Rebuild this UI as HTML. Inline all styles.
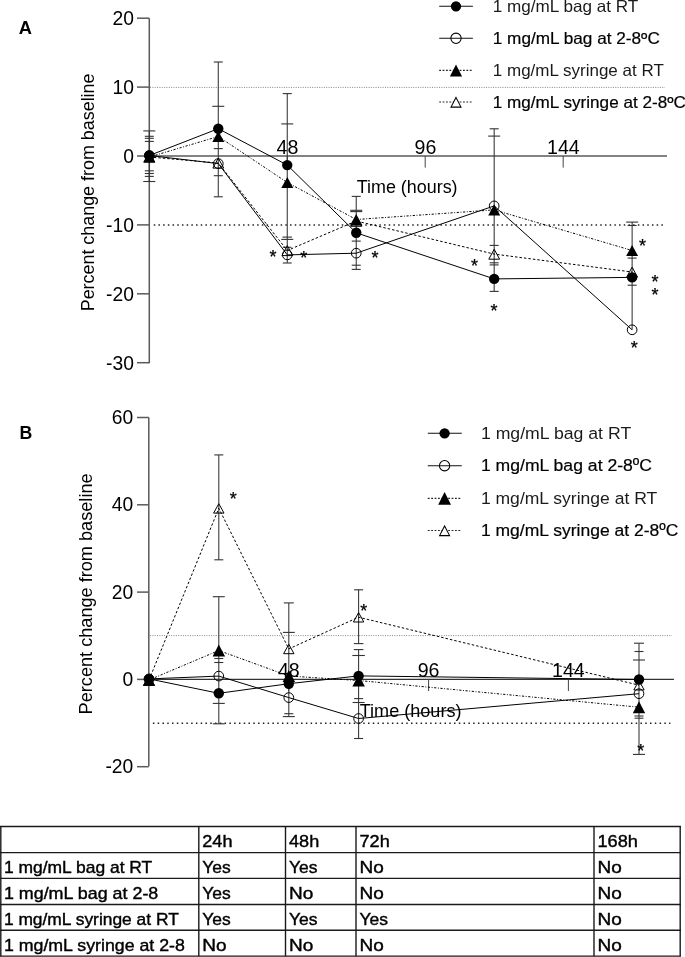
<!DOCTYPE html>
<html><head><meta charset="utf-8"><style>
html,body{margin:0;padding:0;background:#fff;}
body{width:685px;height:957px;overflow:hidden;}
svg{display:block;font-family:"Liberation Sans", sans-serif;will-change:transform;}
</style></head><body>
<svg width="685" height="957" viewBox="0 0 685 957">
<rect width="685" height="957" fill="#fff"/>
<text x="18.8" y="34.4" font-size="18.3" text-anchor="start" fill="#000" font-weight="bold">A</text>
<line x1="149.3" y1="18.3" x2="149.3" y2="363.2" stroke="#5a5a5a" stroke-width="1.5"/>
<line x1="137" y1="18.2" x2="149.3" y2="18.2" stroke="#5a5a5a" stroke-width="1.5"/>
<text transform="translate(133.9 25.0) scale(1 1.09)" font-size="19.3" text-anchor="end" fill="#000">20</text>
<line x1="137" y1="87.1" x2="149.3" y2="87.1" stroke="#5a5a5a" stroke-width="1.5"/>
<text transform="translate(133.9 93.9) scale(1 1.09)" font-size="19.3" text-anchor="end" fill="#000">10</text>
<line x1="137" y1="156.0" x2="149.3" y2="156.0" stroke="#5a5a5a" stroke-width="1.5"/>
<text transform="translate(133.9 162.8) scale(1 1.09)" font-size="19.3" text-anchor="end" fill="#000">0</text>
<line x1="137" y1="224.9" x2="149.3" y2="224.9" stroke="#5a5a5a" stroke-width="1.5"/>
<text transform="translate(133.9 231.7) scale(1 1.09)" font-size="19.3" text-anchor="end" fill="#000">-10</text>
<line x1="137" y1="293.8" x2="149.3" y2="293.8" stroke="#5a5a5a" stroke-width="1.5"/>
<text transform="translate(133.9 300.6) scale(1 1.09)" font-size="19.3" text-anchor="end" fill="#000">-20</text>
<line x1="137" y1="362.7" x2="149.3" y2="362.7" stroke="#5a5a5a" stroke-width="1.5"/>
<text transform="translate(133.9 369.5) scale(1 1.09)" font-size="19.3" text-anchor="end" fill="#000">-30</text>
<line x1="150" y1="87.4" x2="665" y2="87.4" stroke="#777" stroke-width="0.9" stroke-dasharray="1 1.35"/>
<line x1="153.75" y1="224.9" x2="663.6" y2="224.9" stroke="#222" stroke-width="1.5" stroke-dasharray="1.5 3.2"/>
<line x1="149.3" y1="156" x2="667" y2="156" stroke="#5a5a5a" stroke-width="1.5"/>
<line x1="287.25" y1="156" x2="287.25" y2="167.6" stroke="#444" stroke-width="1.0"/>
<text transform="translate(287.45 153.9) scale(1 1.04)" font-size="19.6" text-anchor="middle" fill="#000">48</text>
<line x1="425.2" y1="156" x2="425.2" y2="167.6" stroke="#444" stroke-width="1.0"/>
<text transform="translate(425.4 153.9) scale(1 1.04)" font-size="19.6" text-anchor="middle" fill="#000">96</text>
<line x1="563.16" y1="156" x2="563.16" y2="167.6" stroke="#444" stroke-width="1.0"/>
<text transform="translate(563.36 153.9) scale(1 1.04)" font-size="19.6" text-anchor="middle" fill="#000">144</text>
<text x="356.7" y="193.2" font-size="18.8" text-anchor="start" fill="#000" font-weight="normal" textLength="100.9" lengthAdjust="spacingAndGlyphs">Time (hours)</text>
<text transform="translate(94.2 311.3) rotate(-90)" font-size="18.2" textLength="237.8" lengthAdjust="spacingAndGlyphs">Percent change from baseline</text>
<line x1="149.3" y1="130.9" x2="149.3" y2="181.5" stroke="#333" stroke-width="1.05"/>
<line x1="143.3" y1="130.9" x2="155.3" y2="130.9" stroke="#333" stroke-width="1.1"/>
<line x1="144.8" y1="136.3" x2="153.8" y2="136.3" stroke="#333" stroke-width="1.1"/>
<line x1="144.8" y1="138.3" x2="153.8" y2="138.3" stroke="#333" stroke-width="1.1"/>
<line x1="144.8" y1="141.4" x2="153.8" y2="141.4" stroke="#333" stroke-width="1.1"/>
<line x1="144.8" y1="170.8" x2="153.8" y2="170.8" stroke="#333" stroke-width="1.1"/>
<line x1="144.8" y1="173.5" x2="153.8" y2="173.5" stroke="#333" stroke-width="1.1"/>
<line x1="144.8" y1="176.4" x2="153.8" y2="176.4" stroke="#333" stroke-width="1.1"/>
<line x1="143.3" y1="181.5" x2="155.3" y2="181.5" stroke="#333" stroke-width="1.1"/>
<line x1="218.28" y1="62" x2="218.28" y2="196.8" stroke="#333" stroke-width="1.05"/>
<line x1="213.78" y1="62" x2="222.78" y2="62" stroke="#333" stroke-width="1.1"/>
<line x1="212.28" y1="106.3" x2="224.28" y2="106.3" stroke="#333" stroke-width="1.1"/>
<line x1="213.78" y1="148.6" x2="222.78" y2="148.6" stroke="#333" stroke-width="1.1"/>
<line x1="213.78" y1="175.7" x2="222.78" y2="175.7" stroke="#333" stroke-width="1.1"/>
<line x1="213.78" y1="196.8" x2="222.78" y2="196.8" stroke="#333" stroke-width="1.1"/>
<line x1="287.25" y1="93.6" x2="287.25" y2="263" stroke="#333" stroke-width="1.05"/>
<line x1="282.75" y1="93.6" x2="291.75" y2="93.6" stroke="#333" stroke-width="1.1"/>
<line x1="281.25" y1="123.9" x2="293.25" y2="123.9" stroke="#333" stroke-width="1.1"/>
<line x1="282.5" y1="237.1" x2="292.0" y2="237.1" stroke="#333" stroke-width="1.1"/>
<line x1="281.25" y1="239.4" x2="293.25" y2="239.4" stroke="#333" stroke-width="1.1"/>
<line x1="283.0" y1="247.3" x2="291.5" y2="247.3" stroke="#333" stroke-width="1.1"/>
<line x1="282.75" y1="263" x2="291.75" y2="263" stroke="#333" stroke-width="1.1"/>
<line x1="356.23" y1="196.4" x2="356.23" y2="269.4" stroke="#333" stroke-width="1.05"/>
<line x1="351.73" y1="196.4" x2="360.73" y2="196.4" stroke="#333" stroke-width="1.1"/>
<line x1="350.23" y1="210.3" x2="362.23" y2="210.3" stroke="#333" stroke-width="1.1"/>
<line x1="350.23" y1="211.6" x2="362.23" y2="211.6" stroke="#333" stroke-width="1.1"/>
<line x1="350.23" y1="226" x2="362.23" y2="226" stroke="#333" stroke-width="1.1"/>
<line x1="351.73" y1="241.1" x2="360.73" y2="241.1" stroke="#333" stroke-width="1.1"/>
<line x1="351.73" y1="265.2" x2="360.73" y2="265.2" stroke="#333" stroke-width="1.1"/>
<line x1="351.73" y1="269.4" x2="360.73" y2="269.4" stroke="#333" stroke-width="1.1"/>
<line x1="494.18" y1="128.8" x2="494.18" y2="291.4" stroke="#333" stroke-width="1.05"/>
<line x1="489.68" y1="128.8" x2="498.68" y2="128.8" stroke="#333" stroke-width="1.1"/>
<line x1="488.18" y1="136.1" x2="500.18" y2="136.1" stroke="#333" stroke-width="1.1"/>
<line x1="489.68" y1="245.4" x2="498.68" y2="245.4" stroke="#333" stroke-width="1.1"/>
<line x1="489.68" y1="262.8" x2="498.68" y2="262.8" stroke="#333" stroke-width="1.1"/>
<line x1="489.68" y1="264.9" x2="498.68" y2="264.9" stroke="#333" stroke-width="1.1"/>
<line x1="489.68" y1="291.4" x2="498.68" y2="291.4" stroke="#333" stroke-width="1.1"/>
<line x1="632.13" y1="222.1" x2="632.13" y2="329.8" stroke="#333" stroke-width="1.05"/>
<line x1="626.13" y1="222.1" x2="638.13" y2="222.1" stroke="#333" stroke-width="1.1"/>
<line x1="627.63" y1="225.5" x2="636.63" y2="225.5" stroke="#333" stroke-width="1.1"/>
<line x1="627.63" y1="258.1" x2="636.63" y2="258.1" stroke="#333" stroke-width="1.1"/>
<line x1="627.63" y1="285.2" x2="636.63" y2="285.2" stroke="#333" stroke-width="1.1"/>
<path d="M149.3 157.0L218.3 163.0L287.3 250.5L356.2 221.0L494.2 254.1L632.1 272.0" fill="none" stroke="#000" stroke-width="1" stroke-dasharray="2.5 2"/>
<path d="M149.3 157.0L218.3 136.5L287.3 182.5L356.2 219.5L494.2 209.9L632.1 250.5" fill="none" stroke="#000" stroke-width="1" stroke-dasharray="2.2 1.6 0.9 1.6"/>
<path d="M149.3 155.5L218.3 163.6L287.3 254.9L356.2 253.2L494.2 205.9L632.1 329.8" fill="none" stroke="#000" stroke-width="1"/>
<path d="M149.3 155.5L218.3 128.7L287.3 165.1L356.2 232.8L494.2 278.9L632.1 277.4" fill="none" stroke="#000" stroke-width="1"/>
<path d="M149.3 152.1L154.7 162.1L143.9 162.1Z" fill="none" stroke="#000" stroke-width="1"/>
<path d="M218.3 158.1L223.7 168.1L212.9 168.1Z" fill="none" stroke="#000" stroke-width="1"/>
<path d="M287.3 245.6L292.7 255.6L281.9 255.6Z" fill="none" stroke="#000" stroke-width="1"/>
<path d="M356.2 216.1L361.6 226.1L350.8 226.1Z" fill="none" stroke="#000" stroke-width="1"/>
<path d="M494.2 249.2L499.6 259.2L488.8 259.2Z" fill="none" stroke="#000" stroke-width="1"/>
<path d="M632.1 267.1L637.5 277.1L626.7 277.1Z" fill="none" stroke="#000" stroke-width="1"/>
<circle cx="149.3" cy="155.5" r="4.85" fill="none" stroke="#000" stroke-width="1"/>
<circle cx="218.28" cy="163.6" r="4.85" fill="none" stroke="#000" stroke-width="1"/>
<circle cx="287.25" cy="254.9" r="4.85" fill="none" stroke="#000" stroke-width="1"/>
<circle cx="356.23" cy="253.2" r="4.85" fill="none" stroke="#000" stroke-width="1"/>
<circle cx="494.18" cy="205.9" r="4.85" fill="none" stroke="#000" stroke-width="1"/>
<circle cx="632.13" cy="329.8" r="4.85" fill="none" stroke="#000" stroke-width="1"/>
<path d="M149.3 151.4L155.3 162.6L143.3 162.6Z" fill="#000"/>
<path d="M218.3 130.9L224.3 142.1L212.3 142.1Z" fill="#000"/>
<path d="M287.3 176.9L293.3 188.1L281.3 188.1Z" fill="#000"/>
<path d="M356.2 213.9L362.2 225.1L350.2 225.1Z" fill="#000"/>
<path d="M494.2 204.3L500.2 215.5L488.2 215.5Z" fill="#000"/>
<path d="M632.1 244.9L638.1 256.1L626.1 256.1Z" fill="#000"/>
<circle cx="149.3" cy="155.5" r="5.2" fill="#000"/>
<circle cx="218.28" cy="128.7" r="5.2" fill="#000"/>
<circle cx="287.25" cy="165.1" r="5.2" fill="#000"/>
<circle cx="356.23" cy="232.8" r="5.2" fill="#000"/>
<circle cx="494.18" cy="278.9" r="5.2" fill="#000"/>
<circle cx="632.13" cy="277.4" r="5.2" fill="#000"/>
<text x="273.1" y="263.2" font-size="18" text-anchor="middle" stroke="#000" stroke-width="0.25">*</text>
<text x="303.8" y="263.5" font-size="18" text-anchor="middle" stroke="#000" stroke-width="0.25">*</text>
<text x="375" y="263.59999999999997" font-size="18" text-anchor="middle" stroke="#000" stroke-width="0.25">*</text>
<text x="474.5" y="272.09999999999997" font-size="18" text-anchor="middle" stroke="#000" stroke-width="0.25">*</text>
<text x="493.9" y="317.0" font-size="18" text-anchor="middle" stroke="#000" stroke-width="0.25">*</text>
<text x="642.6" y="252.0" font-size="18" text-anchor="middle" stroke="#000" stroke-width="0.25">*</text>
<text x="655.1" y="288.4" font-size="18" text-anchor="middle" stroke="#000" stroke-width="0.25">*</text>
<text x="655.1" y="300.59999999999997" font-size="18" text-anchor="middle" stroke="#000" stroke-width="0.25">*</text>
<text x="634.3" y="353.9" font-size="18" text-anchor="middle" stroke="#000" stroke-width="0.25">*</text>
<line x1="439.2" y1="6.3" x2="472.9" y2="6.3" stroke="#111" stroke-width="1.1"/>
<circle cx="456.0" cy="6.3" r="5.15" fill="#000"/>
<text x="492.8" y="12.0" font-size="16.5" text-anchor="start" fill="#1a1a1a" font-weight="normal" textLength="145.5" lengthAdjust="spacingAndGlyphs">1 mg/mL bag at RT</text>
<line x1="439.2" y1="38.3" x2="472.9" y2="38.3" stroke="#111" stroke-width="1.1"/>
<circle cx="456.0" cy="38.3" r="5.15" fill="none" stroke="#000" stroke-width="1.05"/>
<text x="492.8" y="44.0" font-size="16.5" text-anchor="start" fill="#000" font-weight="normal" textLength="167.0" lengthAdjust="spacingAndGlyphs" stroke="#000" stroke-width="0.2">1 mg/mL bag at 2-8ºC</text>
<line x1="439.2" y1="70.4" x2="472.9" y2="70.4" stroke="#222" stroke-width="1.1" stroke-dasharray="1.8 1.6"/>
<path d="M456.0 64.4L462.1 76.4L449.9 76.4Z" fill="#000"/>
<text x="492.8" y="76.1" font-size="16.5" text-anchor="start" fill="#1a1a1a" font-weight="normal" textLength="171.0" lengthAdjust="spacingAndGlyphs">1 mg/mL syringe at RT</text>
<line x1="439.2" y1="102.0" x2="472.9" y2="102.0" stroke="#222" stroke-width="1.1" stroke-dasharray="1.8 1.6"/>
<path d="M456.0 97.4L461.0 107.1L451.0 107.1Z" fill="#fff" stroke="#000" stroke-width="1.05"/>
<text x="492.8" y="107.7" font-size="16.5" text-anchor="start" fill="#000" font-weight="normal" textLength="193.0" lengthAdjust="spacingAndGlyphs" stroke="#000" stroke-width="0.2">1 mg/mL syringe at 2-8ºC</text>
<text x="19.6" y="438.6" font-size="17.7" text-anchor="start" fill="#000" font-weight="bold">B</text>
<line x1="148.8" y1="417.6" x2="148.8" y2="766.2" stroke="#5a5a5a" stroke-width="1.5"/>
<line x1="137" y1="417.5" x2="148.8" y2="417.5" stroke="#5a5a5a" stroke-width="1.5"/>
<text transform="translate(133.3 424.1) scale(1 1.09)" font-size="19.3" text-anchor="end" fill="#000">60</text>
<line x1="137" y1="504.8" x2="148.8" y2="504.8" stroke="#5a5a5a" stroke-width="1.5"/>
<text transform="translate(133.3 511.4) scale(1 1.09)" font-size="19.3" text-anchor="end" fill="#000">40</text>
<line x1="137" y1="592.1" x2="148.8" y2="592.1" stroke="#5a5a5a" stroke-width="1.5"/>
<text transform="translate(133.3 598.7) scale(1 1.09)" font-size="19.3" text-anchor="end" fill="#000">20</text>
<line x1="137" y1="679.4" x2="148.8" y2="679.4" stroke="#5a5a5a" stroke-width="1.5"/>
<text transform="translate(133.3 686.0) scale(1 1.09)" font-size="19.3" text-anchor="end" fill="#000">0</text>
<line x1="137" y1="766.7" x2="148.8" y2="766.7" stroke="#5a5a5a" stroke-width="1.5"/>
<text transform="translate(133.3 773.3) scale(1 1.09)" font-size="19.3" text-anchor="end" fill="#000">-20</text>
<line x1="150" y1="635.6" x2="672" y2="635.6" stroke="#777" stroke-width="0.9" stroke-dasharray="1 1.35"/>
<line x1="152.9" y1="723.2" x2="670.4" y2="723.2" stroke="#222" stroke-width="1.5" stroke-dasharray="1.5 3.28"/>
<line x1="148.8" y1="679.4" x2="674" y2="679.4" stroke="#333" stroke-width="1.3"/>
<line x1="288.8" y1="679.4" x2="288.8" y2="691" stroke="#444" stroke-width="1.0"/>
<text transform="translate(288.8 677.4) scale(1 1.04)" font-size="19.6" text-anchor="middle" fill="#000">48</text>
<line x1="428.6" y1="679.4" x2="428.6" y2="691" stroke="#444" stroke-width="1.0"/>
<text transform="translate(428.6 677.4) scale(1 1.04)" font-size="19.6" text-anchor="middle" fill="#000">96</text>
<line x1="568.4" y1="679.4" x2="568.4" y2="691" stroke="#444" stroke-width="1.0"/>
<text transform="translate(568.4 677.4) scale(1 1.04)" font-size="19.6" text-anchor="middle" fill="#000">144</text>
<text x="359.7" y="717.0" font-size="18.8" text-anchor="start" fill="#000" font-weight="normal" textLength="101.8" lengthAdjust="spacingAndGlyphs">Time (hours)</text>
<text transform="translate(92.3 714.4) rotate(-90)" font-size="18.4" textLength="241" lengthAdjust="spacingAndGlyphs">Percent change from baseline</text>
<line x1="218.8" y1="454.9" x2="218.8" y2="559.8" stroke="#333" stroke-width="1.05"/>
<line x1="218.8" y1="596.7" x2="218.8" y2="723.8" stroke="#333" stroke-width="1.05"/>
<line x1="214.3" y1="454.9" x2="223.3" y2="454.9" stroke="#333" stroke-width="1.1"/>
<line x1="214.3" y1="559.8" x2="223.3" y2="559.8" stroke="#333" stroke-width="1.1"/>
<line x1="212.8" y1="596.7" x2="224.8" y2="596.7" stroke="#333" stroke-width="1.1"/>
<line x1="214.3" y1="658.5" x2="223.3" y2="658.5" stroke="#333" stroke-width="1.1"/>
<line x1="214.3" y1="662.5" x2="223.3" y2="662.5" stroke="#333" stroke-width="1.1"/>
<line x1="212.8" y1="703.4" x2="224.8" y2="703.4" stroke="#333" stroke-width="1.1"/>
<line x1="212.8" y1="723.8" x2="224.8" y2="723.8" stroke="#333" stroke-width="1.1"/>
<line x1="288.8" y1="602.9" x2="288.8" y2="716.6" stroke="#333" stroke-width="1.05"/>
<line x1="283.8" y1="602.9" x2="293.8" y2="602.9" stroke="#333" stroke-width="1.1"/>
<line x1="282.8" y1="632.4" x2="294.8" y2="632.4" stroke="#333" stroke-width="1.1"/>
<line x1="284.3" y1="713.7" x2="293.3" y2="713.7" stroke="#333" stroke-width="1.1"/>
<line x1="282.8" y1="716.6" x2="294.8" y2="716.6" stroke="#333" stroke-width="1.1"/>
<line x1="358.6" y1="589.8" x2="358.6" y2="643.6" stroke="#333" stroke-width="1.05"/>
<line x1="358.6" y1="649.6" x2="358.6" y2="738.5" stroke="#333" stroke-width="1.05"/>
<line x1="354.1" y1="589.8" x2="363.1" y2="589.8" stroke="#333" stroke-width="1.1"/>
<line x1="353.8" y1="643.6" x2="363.4" y2="643.6" stroke="#333" stroke-width="1.1"/>
<line x1="353.8" y1="649.6" x2="363.4" y2="649.6" stroke="#333" stroke-width="1.1"/>
<line x1="352.35" y1="655.5" x2="364.85" y2="655.5" stroke="#333" stroke-width="1.1"/>
<line x1="354.1" y1="698.6" x2="363.1" y2="698.6" stroke="#333" stroke-width="1.1"/>
<line x1="352.6" y1="702.5" x2="364.6" y2="702.5" stroke="#333" stroke-width="1.1"/>
<line x1="354.1" y1="738.5" x2="363.1" y2="738.5" stroke="#333" stroke-width="1.1"/>
<line x1="639.0" y1="643.2" x2="639.0" y2="754.4" stroke="#333" stroke-width="1.05"/>
<line x1="634.0" y1="643.2" x2="644.0" y2="643.2" stroke="#333" stroke-width="1.1"/>
<line x1="634.5" y1="651.5" x2="643.5" y2="651.5" stroke="#333" stroke-width="1.1"/>
<line x1="633.0" y1="660" x2="645.0" y2="660" stroke="#333" stroke-width="1.1"/>
<line x1="634.5" y1="716" x2="643.5" y2="716" stroke="#333" stroke-width="1.1"/>
<line x1="634.5" y1="718.2" x2="643.5" y2="718.2" stroke="#333" stroke-width="1.1"/>
<line x1="633.0" y1="754.4" x2="645.0" y2="754.4" stroke="#333" stroke-width="1.1"/>
<path d="M149.0 680.0L218.8 508.3L288.8 648.9L358.6 617.2L639.0 685.2" fill="none" stroke="#000" stroke-width="1" stroke-dasharray="2.5 2"/>
<path d="M149.0 680.0L218.8 650.5L288.8 676.0L358.6 680.5L639.0 707.2" fill="none" stroke="#000" stroke-width="1" stroke-dasharray="2.2 1.6 0.9 1.6"/>
<path d="M149.0 678.9L218.8 676.1L288.8 697.6L358.6 718.5L639.0 693.7" fill="none" stroke="#000" stroke-width="1"/>
<path d="M149.0 678.9L218.8 693.3L288.8 683.7L358.6 675.9L639.0 679.5" fill="none" stroke="#000" stroke-width="1"/>
<path d="M149.0 675.4L154.2 684.8L143.8 684.8Z" fill="none" stroke="#000" stroke-width="1"/>
<path d="M218.8 503.7L224.0 513.1L213.6 513.1Z" fill="none" stroke="#000" stroke-width="1"/>
<path d="M288.8 644.3L294.0 653.7L283.6 653.7Z" fill="none" stroke="#000" stroke-width="1"/>
<path d="M358.6 612.6L363.8 622.0L353.4 622.0Z" fill="none" stroke="#000" stroke-width="1"/>
<path d="M639.0 680.6L644.2 690.0L633.8 690.0Z" fill="none" stroke="#000" stroke-width="1"/>
<circle cx="149.0" cy="678.9" r="4.85" fill="none" stroke="#000" stroke-width="1"/>
<circle cx="218.8" cy="676.1" r="4.85" fill="none" stroke="#000" stroke-width="1"/>
<circle cx="288.8" cy="697.6" r="4.85" fill="none" stroke="#000" stroke-width="1"/>
<circle cx="358.6" cy="718.5" r="4.85" fill="none" stroke="#000" stroke-width="1"/>
<circle cx="639.0" cy="693.7" r="4.85" fill="none" stroke="#000" stroke-width="1"/>
<path d="M149.0 674.0L155.2 686.0L142.8 686.0Z" fill="#000"/>
<path d="M218.8 644.5L225.1 656.5L212.6 656.5Z" fill="#000"/>
<path d="M288.8 670.0L295.1 682.0L282.6 682.0Z" fill="#000"/>
<path d="M358.6 674.5L364.9 686.5L352.4 686.5Z" fill="#000"/>
<path d="M639.0 701.2L645.2 713.2L632.8 713.2Z" fill="#000"/>
<circle cx="149.0" cy="678.9" r="5.2" fill="#000"/>
<circle cx="218.8" cy="693.3" r="5.2" fill="#000"/>
<circle cx="288.8" cy="683.7" r="5.2" fill="#000"/>
<circle cx="358.6" cy="675.9" r="5.2" fill="#000"/>
<circle cx="639.0" cy="679.5" r="5.2" fill="#000"/>
<text x="233.2" y="505.2" font-size="18" text-anchor="middle" stroke="#000" stroke-width="0.25">*</text>
<text x="363.7" y="617.4" font-size="18" text-anchor="middle" stroke="#000" stroke-width="0.25">*</text>
<text x="640.7" y="756.9" font-size="18" text-anchor="middle" stroke="#000" stroke-width="0.25">*</text>
<line x1="427.8" y1="433.3" x2="461.8" y2="433.3" stroke="#111" stroke-width="1.1"/>
<circle cx="444.6" cy="433.3" r="5.15" fill="#000"/>
<text x="480.9" y="439.0" font-size="16.9" text-anchor="start" fill="#1a1a1a" font-weight="normal" textLength="150.3" lengthAdjust="spacingAndGlyphs">1 mg/mL bag at RT</text>
<line x1="427.8" y1="465.7" x2="461.8" y2="465.7" stroke="#111" stroke-width="1.1"/>
<circle cx="444.6" cy="465.7" r="5.15" fill="none" stroke="#000" stroke-width="1.05"/>
<text x="480.9" y="471.4" font-size="16.9" text-anchor="start" fill="#000" font-weight="normal" textLength="171.1" lengthAdjust="spacingAndGlyphs" stroke="#000" stroke-width="0.2">1 mg/mL bag at 2-8ºC</text>
<line x1="427.8" y1="498.4" x2="461.8" y2="498.4" stroke="#222" stroke-width="1.1" stroke-dasharray="1.8 1.6"/>
<path d="M444.6 492.0L451.0 504.8L438.2 504.8Z" fill="#000"/>
<text x="480.9" y="504.1" font-size="16.9" text-anchor="start" fill="#1a1a1a" font-weight="normal" textLength="176.4" lengthAdjust="spacingAndGlyphs">1 mg/mL syringe at RT</text>
<line x1="427.8" y1="530.5" x2="461.8" y2="530.5" stroke="#222" stroke-width="1.1" stroke-dasharray="1.8 1.6"/>
<path d="M444.6 525.9L449.6 535.6L439.6 535.6Z" fill="#fff" stroke="#000" stroke-width="1.05"/>
<text x="480.9" y="536.2" font-size="16.9" text-anchor="start" fill="#000" font-weight="normal" textLength="197.5" lengthAdjust="spacingAndGlyphs" stroke="#000" stroke-width="0.2">1 mg/mL syringe at 2-8ºC</text>
<line x1="0" y1="826.5" x2="680.9" y2="826.5" stroke="#1a1a1a" stroke-width="1.4"/>
<line x1="0" y1="852.6" x2="680.9" y2="852.6" stroke="#1a1a1a" stroke-width="1.4"/>
<line x1="0" y1="878.4" x2="680.9" y2="878.4" stroke="#1a1a1a" stroke-width="1.4"/>
<line x1="0" y1="904.5" x2="680.9" y2="904.5" stroke="#1a1a1a" stroke-width="1.4"/>
<line x1="0" y1="930.3" x2="680.9" y2="930.3" stroke="#1a1a1a" stroke-width="1.4"/>
<line x1="0" y1="956.1" x2="680.9" y2="956.1" stroke="#1a1a1a" stroke-width="1.4"/>
<line x1="0.8" y1="826.3" x2="0.8" y2="956.3" stroke="#1a1a1a" stroke-width="1.4"/>
<line x1="198.8" y1="826.3" x2="198.8" y2="956.3" stroke="#1a1a1a" stroke-width="1.4"/>
<line x1="285.5" y1="826.3" x2="285.5" y2="956.3" stroke="#1a1a1a" stroke-width="1.4"/>
<line x1="356" y1="826.3" x2="356" y2="956.3" stroke="#1a1a1a" stroke-width="1.4"/>
<line x1="594.0" y1="826.3" x2="594.0" y2="956.3" stroke="#1a1a1a" stroke-width="1.4"/>
<line x1="680.2" y1="826.3" x2="680.2" y2="956.3" stroke="#1a1a1a" stroke-width="1.4"/>
<text x="202.3" y="846.7" font-size="17" text-anchor="start" fill="#000" font-weight="normal" textLength="30.2" lengthAdjust="spacingAndGlyphs" stroke="#000" stroke-width="0.4">24h</text>
<text x="289.0" y="846.7" font-size="17" text-anchor="start" fill="#000" font-weight="normal" textLength="30.2" lengthAdjust="spacingAndGlyphs" stroke="#000" stroke-width="0.4">48h</text>
<text x="359.5" y="846.7" font-size="17" text-anchor="start" fill="#000" font-weight="normal" textLength="30.2" lengthAdjust="spacingAndGlyphs" stroke="#000" stroke-width="0.4">72h</text>
<text x="597.5" y="846.7" font-size="17" text-anchor="start" fill="#000" font-weight="normal" textLength="40.4" lengthAdjust="spacingAndGlyphs" stroke="#000" stroke-width="0.4">168h</text>
<text x="3.9" y="872.8" font-size="17" text-anchor="start" fill="#000" font-weight="normal" textLength="148.4" lengthAdjust="spacingAndGlyphs" stroke="#000" stroke-width="0.4">1 mg/mL bag at RT</text>
<text x="202.3" y="872.8" font-size="17" text-anchor="start" fill="#000" font-weight="normal" textLength="28.5" lengthAdjust="spacingAndGlyphs" stroke="#000" stroke-width="0.4">Yes</text>
<text x="289.0" y="872.8" font-size="17" text-anchor="start" fill="#000" font-weight="normal" textLength="28.5" lengthAdjust="spacingAndGlyphs" stroke="#000" stroke-width="0.4">Yes</text>
<text x="359.5" y="872.8" font-size="17" text-anchor="start" fill="#000" font-weight="normal" textLength="24.3" lengthAdjust="spacingAndGlyphs" stroke="#000" stroke-width="0.4">No</text>
<text x="597.5" y="872.8" font-size="17" text-anchor="start" fill="#000" font-weight="normal" textLength="24.3" lengthAdjust="spacingAndGlyphs" stroke="#000" stroke-width="0.4">No</text>
<text x="3.9" y="898.6" font-size="17" text-anchor="start" fill="#000" font-weight="normal" textLength="154.4" lengthAdjust="spacingAndGlyphs" stroke="#000" stroke-width="0.4">1 mg/mL bag at 2-8</text>
<text x="202.3" y="898.6" font-size="17" text-anchor="start" fill="#000" font-weight="normal" textLength="28.5" lengthAdjust="spacingAndGlyphs" stroke="#000" stroke-width="0.4">Yes</text>
<text x="289.0" y="898.6" font-size="17" text-anchor="start" fill="#000" font-weight="normal" textLength="24.3" lengthAdjust="spacingAndGlyphs" stroke="#000" stroke-width="0.4">No</text>
<text x="359.5" y="898.6" font-size="17" text-anchor="start" fill="#000" font-weight="normal" textLength="24.3" lengthAdjust="spacingAndGlyphs" stroke="#000" stroke-width="0.4">No</text>
<text x="597.5" y="898.6" font-size="17" text-anchor="start" fill="#000" font-weight="normal" textLength="24.3" lengthAdjust="spacingAndGlyphs" stroke="#000" stroke-width="0.4">No</text>
<text x="3.9" y="924.7" font-size="17" text-anchor="start" fill="#000" font-weight="normal" textLength="174.9" lengthAdjust="spacingAndGlyphs" stroke="#000" stroke-width="0.4">1 mg/mL syringe at RT</text>
<text x="202.3" y="924.7" font-size="17" text-anchor="start" fill="#000" font-weight="normal" textLength="28.5" lengthAdjust="spacingAndGlyphs" stroke="#000" stroke-width="0.4">Yes</text>
<text x="289.0" y="924.7" font-size="17" text-anchor="start" fill="#000" font-weight="normal" textLength="28.5" lengthAdjust="spacingAndGlyphs" stroke="#000" stroke-width="0.4">Yes</text>
<text x="359.5" y="924.7" font-size="17" text-anchor="start" fill="#000" font-weight="normal" textLength="28.5" lengthAdjust="spacingAndGlyphs" stroke="#000" stroke-width="0.4">Yes</text>
<text x="597.5" y="924.7" font-size="17" text-anchor="start" fill="#000" font-weight="normal" textLength="24.3" lengthAdjust="spacingAndGlyphs" stroke="#000" stroke-width="0.4">No</text>
<text x="3.9" y="950.5" font-size="17" text-anchor="start" fill="#000" font-weight="normal" textLength="181.0" lengthAdjust="spacingAndGlyphs" stroke="#000" stroke-width="0.4">1 mg/mL syringe at 2-8</text>
<text x="202.3" y="950.5" font-size="17" text-anchor="start" fill="#000" font-weight="normal" textLength="24.3" lengthAdjust="spacingAndGlyphs" stroke="#000" stroke-width="0.4">No</text>
<text x="289.0" y="950.5" font-size="17" text-anchor="start" fill="#000" font-weight="normal" textLength="24.3" lengthAdjust="spacingAndGlyphs" stroke="#000" stroke-width="0.4">No</text>
<text x="359.5" y="950.5" font-size="17" text-anchor="start" fill="#000" font-weight="normal" textLength="24.3" lengthAdjust="spacingAndGlyphs" stroke="#000" stroke-width="0.4">No</text>
<text x="597.5" y="950.5" font-size="17" text-anchor="start" fill="#000" font-weight="normal" textLength="24.3" lengthAdjust="spacingAndGlyphs" stroke="#000" stroke-width="0.4">No</text>
</svg>
</body></html>
